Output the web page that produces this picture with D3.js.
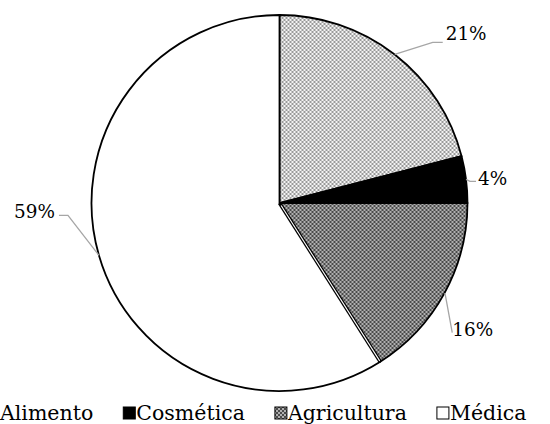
<!DOCTYPE html>
<html>
<head>
<meta charset="utf-8">
<script src="https://cdn.jsdelivr.net/npm/d3@7"></script>
<style>
html,body{margin:0;padding:0;background:#fff;overflow:hidden;}
svg{display:block;}
text{font-family:"DejaVu Serif",serif;fill:#000;}
</style>
</head>
<body>
<svg id="chart" width="550" height="424"></svg>
<script>
const categories = ["Alimento", "Cosmética", "Agricultura", "Médica"];
const values = [21, 4, 16, 59];
const labels = ["21%", "4%", "16%", "59%"];

const svg = d3.select("#chart");
const defs = svg.append("defs");

// pattern: light checker (Alimento)
const p1 = defs.append("pattern").attr("id","pLight").attr("patternUnits","userSpaceOnUse")
  .attr("width",4).attr("height",4);
p1.append("rect").attr("width",4).attr("height",4).attr("fill","#f4f4f4");
p1.append("rect").attr("width",2).attr("height",2).attr("fill","#9a9a9a");
p1.append("rect").attr("x",2).attr("y",2).attr("width",2).attr("height",2).attr("fill","#9a9a9a");

// pattern: dark checker (Agricultura)
const p2 = defs.append("pattern").attr("id","pDark").attr("patternUnits","userSpaceOnUse")
  .attr("width",4).attr("height",4);
p2.append("rect").attr("width",4).attr("height",4).attr("fill","#b0b0b0");
p2.append("rect").attr("width",2).attr("height",2).attr("fill","#4a4a4a");
p2.append("rect").attr("x",2).attr("y",2).attr("width",2).attr("height",2).attr("fill","#4a4a4a");

const fills = d3.scaleOrdinal().domain(categories)
  .range(["url(#pLight)", "#000000", "url(#pDark)", "#ffffff"]);

const cx = 279.5, cy = 203, r = 188;
const g = svg.append("g").attr("transform", `translate(${cx},${cy})`);

const pie = d3.pie().sort(null).value(d => d.v);
const data = categories.map((c,i)=>({c, v: values[i], l: labels[i]}));
const arcs = pie(data);
const arc = d3.arc().innerRadius(0).outerRadius(r);

g.selectAll("path.slice").data(arcs).enter().append("path")
  .attr("class","slice")
  .attr("d", arc)
  .attr("fill", d => fills(d.data.c))
  .attr("stroke", "#000")
  .attr("stroke-width", 1.8)
  .attr("stroke-linejoin","round");

// double edge between Agricultura and Médica
const sepA = arcs[3].startAngle;
const sep = g.append("g");
sep.append("line").attr("x1",0).attr("y1",0)
  .attr("x2", Math.sin(sepA)*r).attr("y2", -Math.cos(sepA)*r)
  .attr("stroke","#000").attr("stroke-width",3.6);
sep.append("line").attr("x1",Math.sin(sepA)*3).attr("y1",-Math.cos(sepA)*3)
  .attr("x2", Math.sin(sepA)*(r-1)).attr("y2", -Math.cos(sepA)*(r-1))
  .attr("stroke","#fff").attr("stroke-width",1.1);

const labelLayout = [
  {elbow:[38,-12], end:[48,-12], anchor:"start", tdx:3, tdy:-2},
  {elbow:[4,2], end:[10,2], anchor:"start", tdx:2, tdy:4},
  {elbow:[1,1], end:[8,39], anchor:"start", tdx:0, tdy:3},
  {elbow:[-31,-40], end:[-40,-40], anchor:"end", tdx:-4, tdy:3}
];

const pts = arcs.map((a,i) => {
  const m = (a.startAngle + a.endAngle)/2;
  const sx = Math.sin(m)*r, sy = -Math.cos(m)*r;
  const L = labelLayout[i];
  return {a, sx, sy, ex: sx+L.elbow[0], ey: sy+L.elbow[1], tx: sx+L.end[0], ty: sy+L.end[1], L};
});

g.selectAll("polyline.leader").data(pts).enter().append("polyline")
  .attr("class","leader")
  .attr("points", d => `${d.sx},${d.sy} ${d.ex},${d.ey} ${d.tx},${d.ty}`)
  .attr("fill","none")
  .attr("stroke","#a6a6a6")
  .attr("stroke-width",1.3);

g.selectAll("text.lbl").data(pts).enter().append("text")
  .attr("class","lbl")
  .attr("x", d => d.tx + d.L.tdx)
  .attr("y", d => d.ty + d.L.tdy)
  .attr("text-anchor", d => d.L.anchor)
  .attr("font-size", 18.4)
  .text(d => d.a.data.l);

// legend
const legend = svg.append("g").attr("transform","translate(0,420)");
let x = 0;
const gap = 30, box = 12, boxGap = 1;
categories.forEach((c,i) => {
  const item = legend.append("g");
  const t = item.append("text").attr("font-size",20.5).attr("x", x).attr("y",0).text(c);
  item.append("rect").attr("x", x - box - boxGap).attr("y",-13).attr("width",box).attr("height",box)
    .attr("fill", fills(c)).attr("stroke","#000").attr("stroke-width",1);
  x += t.node().getComputedTextLength() + gap + box + boxGap;
});
</script>
</body>
</html>
